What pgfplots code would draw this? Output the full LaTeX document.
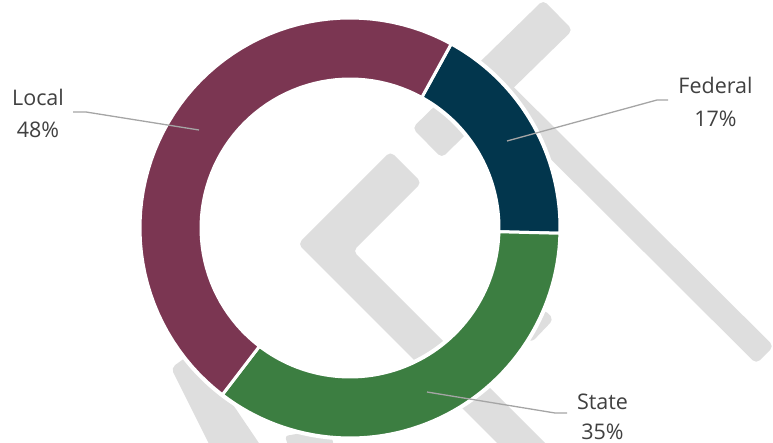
\documentclass[border=0pt]{standalone}
\usepackage{fontspec}
\setmainfont{Open Sans}
\usepackage{pgfplots}
\usepackage{pgfplotstable}
\pgfplotsset{compat=1.18}
\definecolor{cLocal}{HTML}{7B3652}
\definecolor{cFed}{HTML}{02364D}
\definecolor{cState}{HTML}{3C7E41}
\definecolor{wm}{HTML}{DEDEDE}
\definecolor{lead}{HTML}{A5A5A5}
\definecolor{txt}{HTML}{404040}

\pgfplotstableread{
name value
Federal 17.4
State 35.0
Local 47.6
}\shares
\pgfplotstablegetelem{0}{value}\of\shares \let\vF\pgfplotsretval
\pgfplotstablegetelem{1}{value}\of\shares \let\vS\pgfplotsretval
\pgfplotstablegetelem{2}{value}\of\shares \let\vL\pgfplotsretval
\pgfmathsetmacro\aF{28.8}
\pgfmathsetmacro\bF{\aF+3.6*\vF}
\pgfmathsetmacro\bS{\bF+3.6*\vS}
\pgfmathsetmacro\bL{\bS+3.6*\vL}
\def\cx{350}\def\cy{228}\def\Ro{210}\def\Ri{149}

\newcommand\slice[3]{%
  \addplot[fill=#3, draw=white, line width=3pt, samples at={0,1,...,121}, variable=\t]
  ({\cx + ifthenelse(\t<61,\Ro,\Ri)*sin(ifthenelse(\t<61, #1+(#2-#1)*\t/60, #2-(#2-#1)*(\t-61)/60))},
   {\cy - ifthenelse(\t<61,\Ro,\Ri)*cos(ifthenelse(\t<61, #1+(#2-#1)*\t/60, #2-(#2-#1)*(\t-61)/60))}) -- cycle;
}
\newcommand\lbl{\fontsize{21.5}{26}\selectfont}

\begin{document}
\begin{tikzpicture}
\path[use as bounding box] (0,0) rectangle (773pt,443pt);
\begin{axis}[at={(0,0)}, anchor=south west, scale only axis,
  width=773pt, height=443pt, xmin=0, xmax=773, ymin=0, ymax=443,
  y dir=reverse, hide axis, clip=false]
% watermark
\addplot[fill=wm, draw=none, rounded corners=5pt] coordinates {(441.7,158.0) (412.3,128.0) (543.3,0) (572.7,30.0)} -- cycle;
\addplot[fill=wm, draw=none, rounded corners=5pt] coordinates {(298,244) (390.4,151.4) (421.6,182.6) (353,251) (572,470) (548,494)} -- cycle;
\addplot[fill=wm, draw=none, rounded corners=5pt] coordinates {(499.8,73.2) (773.8,346.2) (756.2,363.8) (482.2,90.8)} -- cycle;
\addplot[fill=wm, draw=none, rounded corners=5pt] coordinates {(171,368) (196,350) (265,452) (213,452)} -- cycle;
\addplot[fill=wm, draw=none, rounded corners=3pt] coordinates {(285,436) (330,428) (335,452) (290,452)} -- cycle;
\addplot[fill=wm, draw=none, rounded corners=4pt] coordinates {(515,305) (548,312) (553,320) (532,342) (515,335)} -- cycle;
% halo
\addplot[draw=white, line width=5pt, domain=0:360, samples=181] ({\cx+\Ro*sin(x)},{\cy-\Ro*cos(x)});
\addplot[draw=white, line width=5pt, domain=0:360, samples=181] ({\cx+\Ri*sin(x)},{\cy-\Ri*cos(x)});
% slices
\slice{\aF}{\bF}{cFed}
\slice{\bF}{\bS}{cState}
\slice{\bS}{\bL}{cLocal}
% leader lines
\addplot[lead, line width=1.3pt] coordinates {(73,112) (86,112) (199,130)};
\addplot[lead, line width=1.3pt] coordinates {(668,100) (657,100) (507,141)};
\addplot[lead, line width=1.3pt] coordinates {(567,413) (555,413) (427,392)};
% labels
\node[anchor=base, text=txt, font=\lbl] at (axis cs:38,106) {Local};
\node[anchor=base, text=txt, font=\lbl] at (axis cs:38,138) {48\%};
\node[anchor=base, text=txt, font=\lbl] at (axis cs:715.5,94) {Federal};
\node[anchor=base, text=txt, font=\lbl] at (axis cs:715.5,127) {17\%};
\node[anchor=base, text=txt, font=\lbl] at (axis cs:602.5,409) {State};
\node[anchor=base, text=txt, font=\lbl] at (axis cs:602.5,439) {35\%};
\end{axis}
\end{tikzpicture}
\end{document}
